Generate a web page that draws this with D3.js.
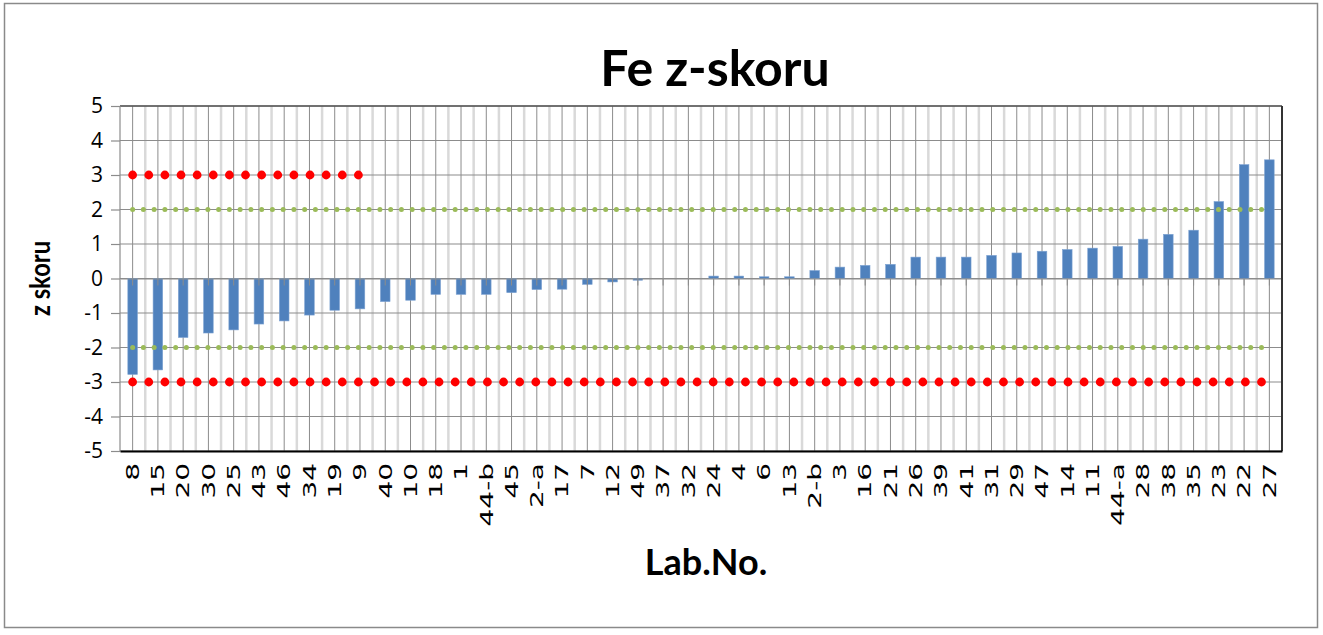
<!DOCTYPE html>
<html>
<head>
<meta charset="utf-8">
<script src="https://cdn.jsdelivr.net/npm/d3@7"></script>
<style>
	body { margin:0; background:#fff; }
	#chart { width:1323px; height:635px; }
</style>
</head>
<body>
<div id="chart"></div>
<script>
var labNo = ["8","15","20","30","25","43","46","34","19","9","40","10","18","1","44-b","45","2-a","17","7","12",
	"49","37","32","24","4","6","13","2-b","3","16","21","26","39","41","31","29","47","14","11","44-a",
	"28","38","35","23","22","27"];
var zScore = [-2.78,-2.65,-1.71,-1.58,-1.49,-1.32,-1.23,-1.06,-0.92,-0.88,-0.67,-0.63,-0.46,-0.46,-0.46,-0.41,-0.32,-0.31,-0.17,-0.10,
	-0.05,0,0,0.07,0.07,0.05,0.05,0.23,0.33,0.38,0.41,0.62,0.62,0.62,0.67,0.74,0.79,0.84,0.88,0.93,
	1.14,1.28,1.40,2.23,3.30,3.44];
var yTicks = [-5,-4,-3,-2,-1,0,1,2,3,4,5];

// limit series (dots)
var upperAction = [3,3,3,3,3,3,3,3,3,3,3,3,3,3,3];
var lowerAction = [-3,-3,-3,-3,-3,-3,-3,-3,-3,-3,-3,-3,-3,-3,-3,-3,-3,-3,-3,-3,
	-3,-3,-3,-3,-3,-3,-3,-3,-3,-3,-3,-3,-3,-3,-3,-3,-3,-3,-3,-3,
	-3,-3,-3,-3,-3,-3,-3,-3,-3,-3,-3,-3,-3,-3,-3,-3,-3,-3,-3,-3,
	-3,-3,-3,-3,-3,-3,-3,-3,-3,-3,-3];
var upperWarning = [2,2,2,2,2,2,2,2,2,2,2,2,2,2,2,2,2,2,2,2,2,2,2,2,2,2,2,2,2,2,
	2,2,2,2,2,2,2,2,2,2,2,2,2,2,2,2,2,2,2,2,2,2,2,2,2,2,2,2,2,2,
	2,2,2,2,2,2,2,2,2,2,2,2,2,2,2,2,2,2,2,2,2,2,2,2,2,2,2,2,2,2,
	2,2,2,2,2,2,2,2,2,2,2,2,2,2,2,2];
var lowerWarning = [-2,-2,-2,-2,-2,-2,-2,-2,-2,-2,-2,-2,-2,-2,-2,-2,-2,-2,-2,-2,-2,-2,-2,-2,-2,-2,-2,-2,-2,-2,
	-2,-2,-2,-2,-2,-2,-2,-2,-2,-2,-2,-2,-2,-2,-2,-2,-2,-2,-2,-2,-2,-2,-2,-2,-2,-2,-2,-2,-2,-2,
	-2,-2,-2,-2,-2,-2,-2,-2,-2,-2,-2,-2,-2,-2,-2,-2,-2,-2,-2,-2,-2,-2,-2,-2,-2,-2,-2,-2,-2,-2,
	-2,-2,-2,-2,-2,-2,-2,-2,-2,-2,-2,-2,-2,-2,-2,-2];

var width = 1323, height = 635;
var padding = {left:120, right:41, top:106, bottom:184};
var plotW = width - padding.left - padding.right;
var plotH = height - padding.top - padding.bottom;

var svg = d3.select("#chart").append("svg")
	.attr("width", width)
	.attr("height", height);

// outer frame
svg.append("rect")
	.attr("x",4.5).attr("y",3.5)
	.attr("width",1313).attr("height",624)
	.attr("fill","#fff")
	.attr("stroke","#8a8a8a")
	.attr("stroke-width",1.5);

var g = svg.append("g")
	.attr("transform","translate(" + padding.left + "," + padding.top + ")");

var xScale = d3.scaleBand()
	.domain(labNo)
	.range([0, plotW]);

var yScale = d3.scaleLinear()
	.domain([-5,5])
	.range([plotH, 0]);

var bw = xScale.bandwidth();
var cx = function(d){ return xScale(d) + bw/2; };

// minor vertical gridlines at band edges
g.selectAll(".minor")
	.data(labNo.slice(1))
	.enter().append("line")
	.attr("x1", function(d){ return xScale(d); })
	.attr("x2", function(d){ return xScale(d); })
	.attr("y1",0).attr("y2",plotH)
	.attr("stroke","#d9d9d9")
	.attr("stroke-width",2.5);

// major vertical gridlines at category centres
g.selectAll(".major")
	.data(labNo)
	.enter().append("line")
	.attr("x1", cx).attr("x2", cx)
	.attr("y1",0).attr("y2",plotH)
	.attr("stroke","#8c8c8c")
	.attr("stroke-width",1);

// horizontal gridlines
g.selectAll(".hgrid")
	.data(yTicks)
	.enter().append("line")
	.attr("x1",0).attr("x2",plotW)
	.attr("y1", function(d){ return yScale(d); })
	.attr("y2", function(d){ return yScale(d); })
	.attr("stroke","#8c8c8c")
	.attr("stroke-width",1.2);

// bars
g.selectAll(".bar")
	.data(zScore)
	.enter().append("rect")
	.attr("class","bar")
	.attr("x", function(d,i){ return cx(labNo[i]) - bw*0.19; })
	.attr("width", bw*0.38)
	.attr("y", function(d){ return yScale(Math.max(0,d)); })
	.attr("height", function(d){ return Math.abs(yScale(d) - yScale(0)); })
	.attr("fill","#4f81bd")
	.attr("stroke","#7ea3d2")
	.attr("stroke-width",0.6);

// category axis through zero, tick marks only
var zeroAxis = d3.axisBottom(xScale)
	.tickSizeInner(7)
	.tickSizeOuter(0)
	.tickFormat("");
g.append("g")
	.attr("transform","translate(0," + yScale(0) + ")")
	.call(zeroAxis)
	.call(function(s){
		s.select(".domain").attr("stroke","#8c8c8c").attr("stroke-width",1.2);
		s.selectAll(".tick line").attr("stroke","#8c8c8c");
	});

// dot series on their own point scales
var dotRange = [cx(labNo[0]), plotW - 20.5];
var redX = d3.scalePoint().domain(d3.range(lowerAction.length)).range(dotRange);
var greenX = d3.scalePoint().domain(d3.range(upperWarning.length)).range(dotRange);

function dots(data, sx, r, color){
	g.append("g").selectAll("circle")
		.data(data)
		.enter().append("circle")
		.attr("cx", function(d,i){ return sx(i); })
		.attr("cy", function(d){ return yScale(d); })
		.attr("r", r)
		.attr("fill", color);
}
dots(upperWarning, greenX, 2.5, "#9bbb59");
dots(lowerWarning, greenX, 2.5, "#9bbb59");
dots(upperAction, redX, 4.4, "#ff0000");
dots(lowerAction, redX, 4.4, "#ff0000");

// plot borders
g.append("line").attr("x1",0).attr("x2",plotW).attr("y1",0).attr("y2",0)
	.attr("stroke","#555").attr("stroke-width",1.5);
g.append("line").attr("x1",0).attr("x2",0).attr("y1",0).attr("y2",plotH)
	.attr("stroke","#8c8c8c").attr("stroke-width",1.2);
g.append("line").attr("x1",plotW).attr("x2",plotW).attr("y1",0).attr("y2",plotH)
	.attr("stroke","#333").attr("stroke-width",2);

// y axis
var yAxis = d3.axisLeft(yScale)
	.tickValues(yTicks)
	.tickFormat(function(d){ return String(d); })
	.tickSizeInner(9)
	.tickSizeOuter(0)
	.tickPadding(8);
g.append("g")
	.call(yAxis)
	.call(function(s){
		s.select(".domain").remove();
		s.selectAll(".tick line").attr("stroke","#8c8c8c").attr("stroke-width",1.2);
		s.selectAll(".tick text")
			.attr("font-family","'Open Sans', sans-serif")
			.attr("font-size",21)
			.attr("fill","#000");
	});

// bottom axis with rotated labels
var xAxis = d3.axisBottom(xScale)
	.tickSizeInner(0)
	.tickSizeOuter(0);
g.append("g")
	.attr("transform","translate(0," + plotH + ")")
	.call(xAxis)
	.call(function(s){
		s.select(".domain").attr("stroke","#000").attr("stroke-width",2);
		s.selectAll(".tick text")
			.attr("font-family","'DejaVu Sans', sans-serif")
			.attr("font-size",17.5)
			.attr("fill","#000")
			.attr("text-anchor","end")
			.attr("y",0)
			.attr("dy","0.36em")
			.attr("transform","translate(0,12) rotate(-90) scale(1.6,1)");
	});

// titles
svg.append("text")
	.attr("x", 715).attr("y", 86)
	.attr("text-anchor","middle")
	.attr("font-family","Lato, sans-serif")
	.attr("font-weight","bold")
	.attr("font-size",50)
	.text("Fe z-skoru");

svg.append("text")
	.attr("x", 706).attr("y", 575)
	.attr("text-anchor","middle")
	.attr("font-family","Lato, sans-serif")
	.attr("font-weight","bold")
	.attr("font-size",36)
	.text("Lab.No.");

svg.append("text")
	.attr("transform","translate(50," + (padding.top + yScale(0)) + ") rotate(-90) scale(0.82,1)")
	.attr("text-anchor","middle")
	.attr("font-family","Lato, sans-serif")
	.attr("font-weight","bold")
	.attr("font-size",29)
	.text("z skoru");
</script>
</body>
</html>
